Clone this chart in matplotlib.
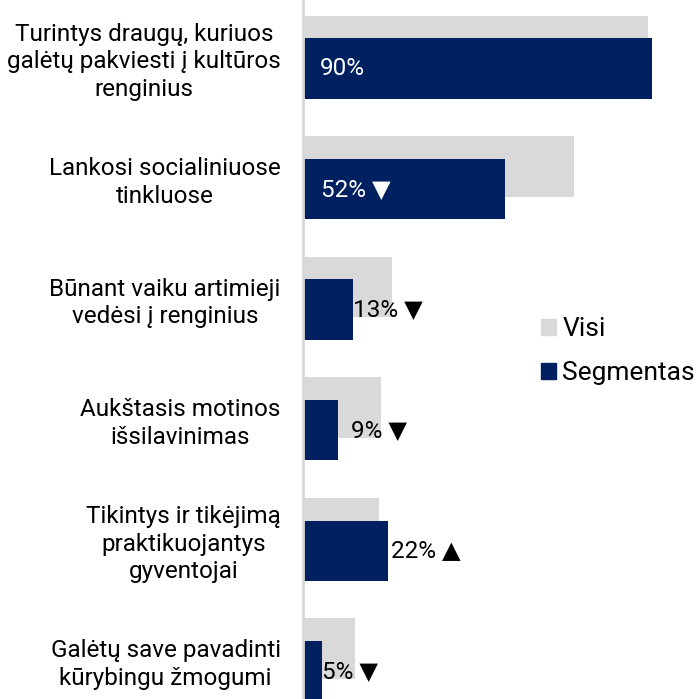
import matplotlib
matplotlib.use("Agg")
import matplotlib.pyplot as plt
from matplotlib.patches import Patch

plt.rcParams['font.family'] = ['Roboto', 'DejaVu Sans']

# categories, top to bottom
categories = [
    "Turintys draugų, kuriuos\ngalėtų pakviesti į kultūros\nrenginius",
    "Lankosi socialiniuose\ntinkluose",
    "Būnant vaiku artimieji\nvedėsi į renginius",
    "Aukštasis motinos\nišsilavinimas",
    "Tikintys ir tikėjimą\npraktikuojantys\ngyventojai",
    "Galėtų save pavadinti\nkūrybingu žmogumi",
]
visi = [89, 70, 23, 20, 19.5, 13.5]
segmentas = [90, 52, 13, 9, 22, 5]
arrows = ["", " ▼", " ▼", " ▼", " ▲", " ▼"]

GREY = "#D9D9D9"
NAVY = "#002060"

fig = plt.figure(figsize=(6.97, 6.99), dpi=100)
ax = fig.add_axes([303 / 697, 0, 394 / 697, 1])

ypos = list(range(len(categories)))
off = 0.094
h = 0.5
ax.barh([y - off for y in ypos], visi, height=h, color=GREY, zorder=1)
ax.barh([y + off for y in ypos], segmentas, height=h, color=NAVY, zorder=2)

ax.set_xlim(0, 394 / 3.878)
ax.set_ylim(5.325, -0.475)

# value labels: white inside long bars, black next to short ones
label_x = [4.3, 4.6, 12.8, 12.4, 22.7, 4.8]
for y, v, a, lx in zip(ypos, segmentas, arrows, label_x):
    inside = v > 40
    ax.text(lx, y + off, f"{v}%{a}", va="center", ha="left", fontsize=17.5,
            color="white" if inside else "black", zorder=3)

ax.set_yticks(ypos)
ax.set_yticklabels(categories, fontsize=17.5, multialignment="center",
                   linespacing=1.25)
ax.tick_params(axis="y", length=0, pad=16)
ax.set_xticks([])

for s in ["top", "right", "bottom"]:
    ax.spines[s].set_visible(False)
ax.spines["left"].set_color("#D9D9D9")
ax.spines["left"].set_linewidth(2)

handles = [Patch(color=GREY, label="Visi"), Patch(color=NAVY, label="Segmentas")]
leg = fig.legend(handles=handles, loc="center left",
                 bbox_to_anchor=(541 / 697, 1 - 351 / 699), frameon=False,
                 fontsize=19, handlelength=0.55, handleheight=0.55,
                 handletextpad=0.26, labelspacing=0.75, borderpad=0,
                 borderaxespad=0)

fig.savefig("out.png", dpi=100)
